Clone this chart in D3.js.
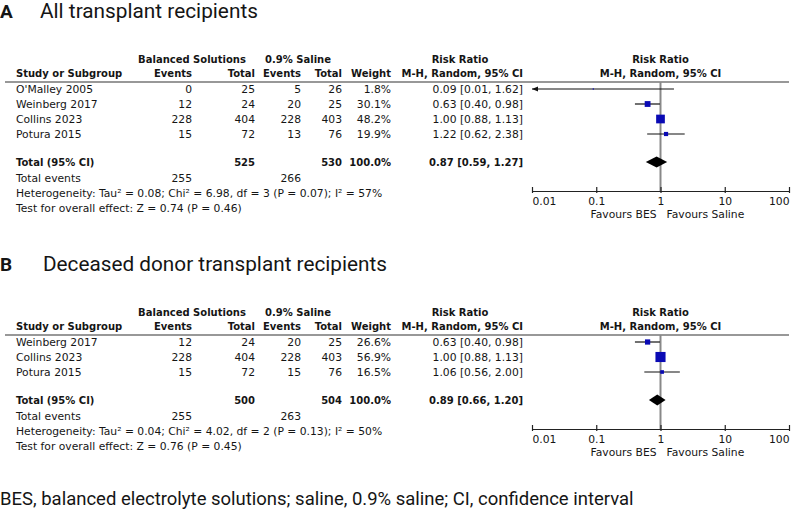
<!DOCTYPE html>
<html>
<head>
<meta charset="utf-8">
<script src="https://cdn.jsdelivr.net/npm/d3@7"></script>
<style>
  body { margin: 0; background: #fff; }
  text { fill: #151515; }
</style>
</head>
<body>
<svg id="chart" width="800" height="510"></svg>
<script>
// ---- panel A: all transplant recipients
const studiesA = ["O'Malley 2005", "Weinberg 2017", "Collins 2023", "Potura 2015"];
const besEventsA = [0, 12, 228, 15];
const besTotalA = [25, 24, 404, 72];
const salEventsA = [5, 20, 228, 13];
const salTotalA = [26, 25, 403, 76];
const weightA = [1.8, 30.1, 48.2, 19.9];
const rrA = [0.09, 0.63, 1.0, 1.22];
const loA = [0.01, 0.4, 0.88, 0.62];
const hiA = [1.62, 0.98, 1.13, 2.38];
const totalNA = [525, 530];
const totalEventsA = [255, 266];
const totalRRA = [0.87, 0.59, 1.27]; // estimate, lower, upper
const hetA = ["0.08", "6.98", "3", "0.07", "57"]; // tau2, chi2, df, p, i2
const zA = ["0.74", "0.46"];

// ---- panel B: deceased donor transplant recipients
const studiesB = ["Weinberg 2017", "Collins 2023", "Potura 2015"];
const besEventsB = [12, 228, 15];
const besTotalB = [24, 404, 72];
const salEventsB = [20, 228, 15];
const salTotalB = [25, 403, 76];
const weightB = [26.6, 56.9, 16.5];
const rrB = [0.63, 1.0, 1.06];
const loB = [0.4, 0.88, 0.56];
const hiB = [0.98, 1.13, 2.0];
const totalNB = [500, 504];
const totalEventsB = [255, 263];
const totalRRB = [0.89, 0.66, 1.2];
const hetB = ["0.04", "4.02", "2", "0.13", "50"];
const zB = ["0.76", "0.45"];

const axisTicks = [0.01, 0.1, 1, 10, 100];

const svg = d3.select("#chart");
const TABLE_FONT = "DejaVu Sans, Verdana, sans-serif";
const TITLE_FONT = "Roboto, Lato, sans-serif";

const x = d3.scaleLog().domain([0.01, 100]).range([532, 789]);
const boxSize = d3.scaleLinear().domain([0, 100]).range([1, 17]);
const f2 = d3.format(".2f");
const f1 = d3.format(".1f");

// shrink / grow a text so it spans w pixels
function fitWidth(t, w) {
  const len = t.node().getComputedTextLength();
  const fs = parseFloat(t.attr("font-size"));
  t.attr("font-size", (fs * w) / len);
}

function panel(top, letter, title, titleX, titleW, d) {
  const g = svg.append("g").attr("transform", `translate(0,${top})`);

  g.append("text")
    .attr("x", 0).attr("y", 18)
    .attr("font-family", TITLE_FONT)
    .attr("font-weight", "bold")
    .attr("font-size", 19)
    .text(letter);
  const tt = g.append("text")
    .attr("x", titleX).attr("y", 18)
    .attr("font-family", TITLE_FONT)
    .attr("font-size", 18)
    .text(title);
  fitWidth(tt, titleW);

  const tbl = g.append("g").attr("font-family", TABLE_FONT).attr("font-size", 10.75);

  const txt = (xx, yy, s, anchor = "start", bold = false) =>
    tbl.append("text")
      .attr("x", xx).attr("y", yy)
      .attr("text-anchor", anchor)
      .attr("font-weight", bold ? "bold" : null)
      .attr("font-size", bold ? 10 : null)
      .text(s);

  // header
  txt(192, 63, "Balanced Solutions", "middle", true);
  txt(298, 63, "0.9% Saline", "middle", true);
  txt(460, 63, "Risk Ratio", "middle", true);
  txt(x(1), 63, "Risk Ratio", "middle", true);
  txt(16, 77, "Study or Subgroup", "start", true);
  txt(192, 77, "Events", "end", true);
  txt(255, 77, "Total", "end", true);
  txt(301, 77, "Events", "end", true);
  txt(342, 77, "Total", "end", true);
  txt(391, 77, "Weight", "end", true);
  txt(523, 77, "M-H, Random, 95% CI", "end", true);
  txt(x(1), 77, "M-H, Random, 95% CI", "middle", true);

  const lineY = 82;
  g.append("line")
    .attr("x1", 5).attr("x2", x.range()[1])
    .attr("y1", lineY).attr("y2", lineY)
    .attr("stroke", "#333").attr("stroke-width", 1.2);

  const n = d.studies.length;
  const rowY = d3.scaleLinear().domain([0, 1]).range([89, 104]);
  const totY = rowY(n - 1) + 28;
  const axisY = totY + 29;

  // null line
  g.append("line")
    .attr("x1", x(1)).attr("x2", x(1))
    .attr("y1", lineY).attr("y2", axisY)
    .attr("stroke", "#888").attr("stroke-width", 2);

  d.studies.forEach((s, i) => {
    const yb = rowY(i) + 4;
    txt(16, yb, s);
    txt(192, yb, d.bEv[i], "end");
    txt(255, yb, d.bTot[i], "end");
    txt(301, yb, d.sEv[i], "end");
    txt(342, yb, d.sTot[i], "end");
    txt(391, yb, f1(d.wt[i]) + "%", "end");
    txt(523, yb, `${f2(d.rr[i])} [${f2(d.lo[i])}, ${f2(d.hi[i])}]`, "end");
  });

  const marks = g.append("g");
  marks.selectAll("line.ci")
    .data(d.studies.map((s, i) => i))
    .join("line")
    .attr("class", "ci")
    .attr("x1", i => x(Math.max(d.lo[i], x.domain()[0])))
    .attr("x2", i => x(Math.min(d.hi[i], x.domain()[1])))
    .attr("y1", i => rowY(i)).attr("y2", i => rowY(i))
    .attr("stroke", "#111").attr("stroke-width", 1.2);

  // arrows where the interval runs off the scale
  marks.selectAll("path.arrow")
    .data(d.studies.map((s, i) => i).filter(i => d.lo[i] <= x.domain()[0]))
    .join("path")
    .attr("class", "arrow")
    .attr("d", i => {
      const x0 = x(x.domain()[0]), y0 = rowY(i);
      return `M${x0},${y0}L${x0 + 6},${y0 - 2.5}L${x0 + 6},${y0 + 2.5}Z`;
    })
    .attr("fill", "#111");

  marks.selectAll("rect.box")
    .data(d.studies.map((s, i) => i))
    .join("rect")
    .attr("class", "box")
    .attr("x", i => x(d.rr[i]) - boxSize(d.wt[i]) / 2)
    .attr("y", i => rowY(i) - boxSize(d.wt[i]) / 2)
    .attr("width", i => boxSize(d.wt[i]))
    .attr("height", i => boxSize(d.wt[i]))
    .attr("fill", "#0a0ab4");

  // total row
  const tb = totY + 4;
  txt(16, tb, "Total (95% CI)", "start", true);
  txt(255, tb, d.totN[0], "end", true);
  txt(342, tb, d.totN[1], "end", true);
  txt(391, tb, "100.0%", "end", true);
  txt(523, tb, `${f2(d.totRR[0])} [${f2(d.totRR[1])}, ${f2(d.totRR[2])}]`, "end", true);

  const [est, lo, hi] = d.totRR;
  marks.append("path")
    .attr("d", `M${x(lo)},${totY}L${x(est)},${totY - 5.5}L${x(hi)},${totY}L${x(est)},${totY + 5.5}Z`)
    .attr("fill", "#000");

  txt(16, tb + 16, "Total events");
  txt(192, tb + 16, d.totEv[0], "end");
  txt(301, tb + 16, d.totEv[1], "end");
  const h = d.het;
  txt(16, tb + 31, `Heterogeneity: Tau² = ${h[0]}; Chi² = ${h[1]}, df = ${h[2]} (P = ${h[3]}); I² = ${h[4]}%`);
  txt(16, tb + 46, `Test for overall effect: Z = ${d.z[0]} (P = ${d.z[1]})`);

  // axis
  const ax = g.append("g")
    .attr("transform", `translate(0,${axisY})`)
    .call(d3.axisBottom(x)
      .tickValues(axisTicks)
      .tickFormat(d3.format("~g"))
      .tickSizeInner(-4)
      .tickSizeOuter(0)
      .tickPadding(6));
  ax.attr("font-family", TABLE_FONT).attr("font-size", 10.75);
  ax.select(".domain").attr("stroke", "#222").attr("stroke-width", 1.2);
  ax.selectAll(".tick line").attr("y1", 2).attr("stroke", "#222").attr("stroke-width", 1.2);
  ax.selectAll(".tick text").attr("fill", "#151515")
    .attr("text-anchor", (v, i) => i === 0 ? "start" : i === axisTicks.length - 1 ? "end" : "middle");

  txt(x(1) - 4, axisY + 27, "Favours BES", "end");
  txt(x(1) + 6, axisY + 27, "Favours Saline", "start");
}

panel(0, "A", "All transplant recipients", 40, 218, {
  studies: studiesA, bEv: besEventsA, bTot: besTotalA, sEv: salEventsA, sTot: salTotalA,
  wt: weightA, rr: rrA, lo: loA, hi: hiA, totN: totalNA, totEv: totalEventsA,
  totRR: totalRRA, het: hetA, z: zA
});

panel(253, "B", "Deceased donor transplant recipients", 43, 344, {
  studies: studiesB, bEv: besEventsB, bTot: besTotalB, sEv: salEventsB, sTot: salTotalB,
  wt: weightB, rr: rrB, lo: loB, hi: hiB, totN: totalNB, totEv: totalEventsB,
  totRR: totalRRB, het: hetB, z: zB
});

const foot = svg.append("text")
  .attr("x", 0).attr("y", 505)
  .attr("font-family", TITLE_FONT)
  .attr("font-size", 17)
  .text("BES, balanced electrolyte solutions; saline, 0.9% saline; CI, confidence interval");
fitWidth(foot, 634);
</script>
</body>
</html>
